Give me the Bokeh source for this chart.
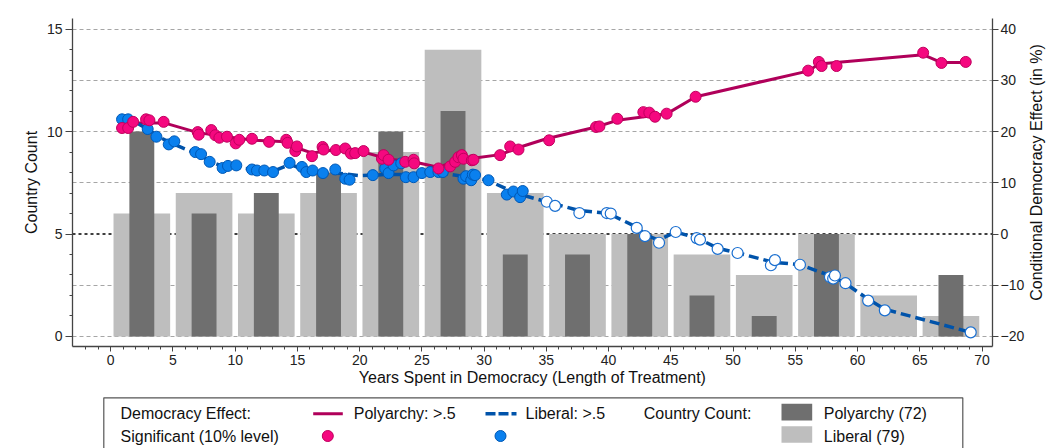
import math
from bokeh.plotting import figure
from bokeh.models import Range1d, LinearAxis, FixedTicker, Span
from bokeh.layouts import column, row
from bokeh.core.properties import value
from bokeh.embed import file_html
from bokeh.resources import INLINE

FONT = "Liberation Sans"

# ---------------- data ----------------
bin_centers = [2.5, 7.5, 12.5, 17.5, 22.5, 27.5, 32.5, 37.5, 42.5, 47.5, 52.5, 57.5, 62.5, 67.5]
liberal_count = [6, 7, 6, 7, 9, 14, 7, 5, 5, 4, 3, 5, 2, 1]
polyarchy_count = [10, 6, 7, 8, 10, 11, 4, 4, 5, 2, 1, 5, 0, 3]

# Polyarchy effect line (smoothed path) and significant estimates
poly_line_x = [0.9, 1.5, 4.3, 7.0, 9.3, 11.5, 14.1, 15.0, 16.2, 17.9, 18.5, 20.3, 22.4, 24.3, 26.4,
               28.1, 29.1, 31.3, 32.9, 35.0, 39.0, 40.7, 44.7, 47.0, 56.0, 56.9, 65.3, 66.7, 68.7]
poly_line_y = [20.8, 21.7, 21.7, 19.8, 19.0, 18.3, 18.0, 16.8, 15.8, 16.4, 16.6, 16.0, 14.6, 14.1, 13.0,
               14.8, 14.8, 15.5, 17.0, 18.6, 20.9, 22.2, 23.5, 26.8, 31.8, 33.2, 35.0, 33.5, 33.5]
poly_sig_x = [0.91, 1.40, 1.80, 2.84, 3.11, 4.25, 6.99, 7.07, 8.08, 8.40, 8.73, 9.34, 10.04, 10.33, 11.35,
              12.72, 14.10, 14.21, 14.83, 14.96, 16.17, 17.02, 17.10, 18.09, 18.84, 19.30, 19.64, 20.31,
              21.79, 21.92, 22.32, 23.66, 24.33, 24.38, 26.33, 27.27, 27.67, 27.94, 28.21, 28.34, 29.01,
              29.14, 31.28, 32.09, 32.76, 35.22, 38.99, 39.26, 40.70, 42.79, 43.27, 43.73, 44.66, 46.99,
              56.03, 56.89, 57.11, 58.31, 65.27, 66.74, 68.69]
poly_sig_y = [20.7, 20.7, 21.9, 22.4, 22.2, 21.9, 19.9, 19.4, 20.3, 19.3, 18.8, 19.0, 17.7, 18.4, 18.6,
              18.0, 18.4, 17.8, 16.2, 17.1, 15.2, 17.0, 16.5, 16.4, 16.7, 15.7, 15.8, 16.2,
              14.7, 15.4, 14.5, 14.1, 14.5, 13.8, 12.8, 13.2, 14.1, 15.0, 15.4, 14.7, 14.4,
              14.5, 15.4, 17.1, 16.5, 18.3, 20.9, 21.0, 22.5, 23.8, 23.7, 22.9, 23.5, 26.8,
              31.9, 33.6, 32.8, 32.8, 35.4, 33.4, 33.6]

# Liberal effect line and estimates
lib_line_x = [0.9, 2.0, 3.0, 4.0, 5.0, 6.0, 7.0, 8.0, 9.0, 10.0, 11.5, 13.0, 14.4, 15.5, 17.0, 18.5, 20.0,
              22.0, 24.0, 26.5, 28.5, 30.3, 32.5, 35.0, 37.6, 40.0, 42.3, 43.0, 44.0, 45.4, 47.2, 48.8,
              50.4, 53.2, 55.4, 58.0, 59.0, 60.9, 62.2, 69.1]
lib_line_y = [22.4, 21.8, 20.4, 18.8, 17.6, 16.6, 15.6, 14.2, 13.2, 13.0, 12.6, 12.2, 13.6, 12.6, 12.1, 11.8,
              11.4, 11.6, 11.6, 11.9, 11.2, 10.5, 8.0, 6.3, 4.6, 4.0, 1.3, -0.2, -1.2, 0.4, -0.9, -2.8,
              -3.7, -5.5, -6.0, -8.3, -9.6, -12.8, -14.7, -19.2]
lib_sig_x = [0.91, 1.40, 2.97, 3.67, 4.66, 5.11, 6.80, 7.26, 7.95, 8.99, 9.42, 10.09, 11.35, 11.75, 12.34,
             13.04, 14.37, 15.36, 15.71, 16.22, 17.05, 18.04, 18.84, 19.19, 21.06, 22.05, 22.32, 22.72,
             23.34, 23.71, 24.33, 25.00, 25.67, 26.33, 26.68, 28.34, 28.55, 28.96, 29.09, 29.27, 30.35,
             31.82, 32.35, 32.89, 33.10]
lib_sig_y = [22.4, 22.4, 20.5, 19.0, 17.5, 18.1, 16.0, 15.6, 14.1, 12.9, 13.3, 13.4, 12.6, 12.4, 12.4,
             12.1, 13.9, 13.1, 12.1, 12.4, 11.9, 12.6, 10.8, 10.6, 11.5, 12.8, 11.9, 13.4,
             13.8, 11.1, 11.1, 11.9, 12.1, 12.1, 12.1, 10.8, 11.3, 10.5, 11.6, 11.5, 10.5,
             7.7, 8.3, 7.2, 8.4]
lib_ns_x = [35.03, 35.70, 37.65, 39.85, 40.17, 42.26, 42.92, 44.05, 45.39, 47.07, 47.34, 48.76, 50.36,
            53.04, 53.36, 55.37, 57.78, 58.04, 58.18, 59.03, 60.85, 62.19, 69.09]
lib_ns_y = [6.3, 5.5, 4.1, 4.1, 4.0, 1.2, -0.4, -1.7, 0.4, -0.8, -1.1, -2.9, -3.7,
            -6.1, -5.1, -6.0, -8.4, -8.7, -8.1, -9.6, -13.0, -14.9, -19.2]

x_ticks = list(range(0, 71, 5))
left_ticks = [0, 5, 10, 15]
right_ticks = [-20, -10, 0, 10, 20, 30, 40]

# ---------------- colours ----------------
LIGHT = "#bebebe"
DARK = "#6f6f6f"
PINK_LINE = "#b0005a"
PINK_FILL = "#f5087f"
PINK_EDGE = "#c0005e"
BLUE_LINE = "#0053aa"
BLUE_FILL = "#0a80ee"
BLUE_EDGE = "#0058b5"
AXIS = "#444444"

W = 1051
ML, MR = 72, 58
SIDE_W = 24           # strip on the far right that carries the right axis title
H = 392

# ---------------- main figure ----------------
p = figure(width=W - SIDE_W, height=H, output_backend="svg", toolbar_location=None,
           x_range=Range1d(-3.07, 70.84), y_range=Range1d(-0.49, 15.52),
           min_border_left=ML, min_border_right=MR - SIDE_W, min_border_top=18, min_border_bottom=46)
p.outline_line_color = None
p.background_fill_color = "white"
p.border_fill_color = "white"
p.extra_y_ranges = {"eff": Range1d(-21.96, 42.08)}

def style_axis(ax, size="14px"):
    ax.axis_line_color = AXIS
    ax.axis_line_width = 1.3
    ax.major_tick_line_color = AXIS
    ax.minor_tick_line_color = AXIS
    ax.major_label_text_font = FONT
    ax.major_label_text_font_size = size
    ax.major_label_text_color = "#222222"
    ax.axis_label_text_font = FONT
    ax.axis_label_text_font_size = "16px"
    ax.axis_label_text_font_style = "normal"
    ax.axis_label_text_color = "#111111"

xa = p.xaxis[0]
style_axis(xa)
xa.ticker = FixedTicker(ticks=x_ticks, minor_ticks=list(range(-2, 71)))
xa.major_tick_out = 5
xa.major_tick_in = 0
xa.minor_tick_out = 3
xa.minor_tick_in = 0
xa.major_label_standoff = 3
xa.axis_label = "Years Spent in Democracy (Length of Treatment)"
xa.axis_label_standoff = 1

ya = p.yaxis[0]
style_axis(ya)
ya.ticker = FixedTicker(ticks=left_ticks, minor_ticks=list(range(0, 16)))
ya.major_tick_out = 7
ya.major_tick_in = 0
ya.minor_tick_out = 3
ya.minor_tick_in = 0
ya.major_label_standoff = 3
ya.axis_label = "Country Count"
ya.axis_label_standoff = 4

ra = LinearAxis(y_range_name="eff")
style_axis(ra)
ra.ticker = FixedTicker(ticks=right_ticks)
ra.major_label_overrides = {t: (str(t).replace("-", "\u2212")) for t in right_ticks}
ra.major_tick_out = 6
ra.major_tick_in = 0
ra.minor_tick_out = 0
ra.minor_tick_in = 0
ra.major_label_standoff = 2
p.add_layout(ra, "right")

# grid
p.xgrid.visible = False
p.ygrid.ticker = FixedTicker(ticks=[0, 2.5, 7.5, 10, 12.5, 15])
p.ygrid.grid_line_color = "#a6a6a6"
p.ygrid.grid_line_dash = "4 3"
p.ygrid.grid_line_width = 1
zero = Span(location=0, dimension="width", y_range_name="eff", line_color="black",
            line_dash="3 3", line_width=1.6, level="underlay")
p.add_layout(zero)

# bars
p.vbar(x=bin_centers, top=liberal_count, bottom=0, width=4.55, fill_color=LIGHT, line_color=None)
p.vbar(x=bin_centers, top=polyarchy_count, bottom=0, width=2.0, fill_color=DARK, line_color=None)

# lines
p.line(poly_line_x, poly_line_y, y_range_name="eff", line_color=PINK_LINE, line_width=3)
p.line(lib_line_x, lib_line_y, y_range_name="eff", line_color=BLUE_LINE, line_width=3.5,
       line_dash="10 5")

# points
p.scatter(lib_ns_x, lib_ns_y, y_range_name="eff", size=11, fill_color="white",
          line_color="#1a6fd0", line_width=1.2)
p.scatter(lib_sig_x, lib_sig_y, y_range_name="eff", size=11, fill_color=BLUE_FILL,
          line_color=BLUE_EDGE, line_width=1)
p.scatter(poly_sig_x, poly_sig_y, y_range_name="eff", size=11, fill_color=PINK_FILL,
          line_color=PINK_EDGE, line_width=1)

# ---------------- right title strip (pixel coordinates, y upward) ----------------
side = figure(width=SIDE_W, height=H, output_backend="svg", toolbar_location=None,
              x_range=Range1d(0, SIDE_W), y_range=Range1d(0, H),
              min_border_left=0, min_border_right=0, min_border_top=0, min_border_bottom=0)
side.axis.visible = False
side.grid.visible = False
side.outline_line_color = None
side.background_fill_color = "white"
side.border_fill_color = "white"
side.text(x=[8.5], y=[H - 184], text=["Conditional Democracy Effect (in %)"], angle=math.pi / 2,
          text_align="center", text_baseline="middle", text_font=value(FONT),
          text_font_size=value("16px"), text_color="#111111")

# ---------------- legend figure (x in page pixels, y in pixels from its top) ----------------
LH = 56
lg = figure(width=W, height=LH, output_backend="svg", toolbar_location=None,
            x_range=Range1d(ML, W - MR), y_range=Range1d(LH, 0),
            min_border_left=ML, min_border_right=MR, min_border_top=0, min_border_bottom=0)
lg.axis.visible = False
lg.grid.visible = False
lg.outline_line_color = None
lg.background_fill_color = "white"
lg.border_fill_color = "white"

lg.quad(left=[103.3], right=[962.3], top=[5.3], bottom=[80], fill_color=None,
        line_color="#555555", line_width=1.2)

r1, r2 = 21.3, 43.5
tf = dict(text_font=value(FONT), text_font_size=value("16px"), text_baseline="middle",
          text_align="left", text_color="#111111")
lg.text(x=[120, 353.3, 525, 643.3, 823.3, 120, 823.3],
        y=[r1, r1, r1, r1, r1, r2, r2],
        text=["Democracy Effect:", "Polyarchy: >.5", "Liberal: >.5", "Country Count:",
              "Polyarchy (72)", "Significant (10% level)", "Liberal (79)"], **tf)
lg.line([312.7, 342.3], [r1, r1], line_color=PINK_LINE, line_width=3)
lg.line([485, 516], [r1, r1], line_color=BLUE_LINE, line_width=3.5, line_dash="10 3")
lg.quad(left=[781], right=[811.7], top=[11.3], bottom=[28], fill_color=DARK, line_color=None)
lg.quad(left=[781], right=[811.7], top=[33.7], bottom=[50.3], fill_color=LIGHT, line_color=None)
lg.scatter([327.3], [r2], size=11, fill_color=PINK_FILL, line_color=PINK_EDGE)
lg.scatter([500], [r2], size=11, fill_color=BLUE_FILL, line_color=BLUE_EDGE)

layout = column(row(p, side, spacing=0), lg, spacing=0)
open("out.html", "w").write(file_html(layout, INLINE))
